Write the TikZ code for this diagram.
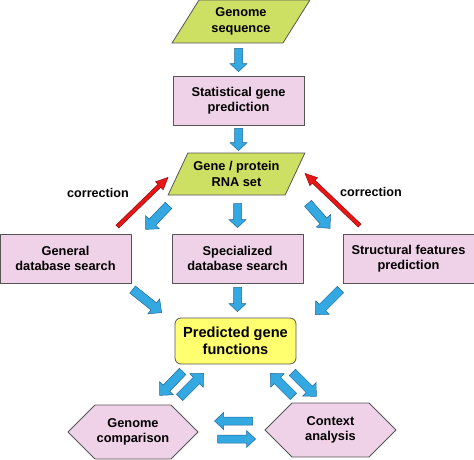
\documentclass[tikz,border=0pt]{standalone}
\usepackage{fontspec}
\setmainfont{Liberation Sans}
\usetikzlibrary{positioning}
\usetikzlibrary{calc}
\usetikzlibrary{shapes.geometric}
\usetikzlibrary{shapes.symbols}

\definecolor{boxpink}{RGB}{240,210,232}
\definecolor{seqgreen}{RGB}{206,224,100}
\definecolor{funcyellow}{RGB}{255,255,112}
\definecolor{arrowblue}{RGB}{52,168,224}
\definecolor{arrowedge}{RGB}{30,105,155}
\definecolor{corrred}{RGB}{232,22,22}
\definecolor{corredge}{RGB}{150,10,10}
\definecolor{boxedge}{RGB}{85,85,85}

% style, tail, tip, half shaft, half head, head length
\newcommand\fatarrow[6]{%
	\coordinate (fa-t) at #2;
	\coordinate (fa-e) at #3;
	\coordinate (fa-h) at ($(fa-e)!#6!(fa-t)$);
	\filldraw[#1] ($(fa-t)!#4!90:(fa-e)$) -- ($(fa-h)!#4!90:(fa-e)$) -- ($(fa-h)!#5!90:(fa-e)$) -- (fa-e)
		-- ($(fa-h)!#5!-90:(fa-e)$) -- ($(fa-h)!#4!-90:(fa-e)$) -- ($(fa-t)!#4!-90:(fa-e)$) -- cycle;}

\begin{document}
\begin{tikzpicture}[x=1pt,y=-1pt]
				\tikzset{box/.style = {shape=rectangle, draw=boxedge, fill=boxpink, line width=0.8pt, align=center, inner sep=0pt, minimum width=131pt, minimum height=49pt, font=\fontsize{12.8}{15.5}\selectfont\bfseries},
					dataset/.style = {shape=trapezium, trapezium left angle=55, trapezium right angle=125, trapezium stretches=true, draw=boxedge, fill=seqgreen, line width=0.8pt, align=center, inner sep=0pt, minimum width=138pt, minimum height=43pt, font=\fontsize{12.8}{15.5}\selectfont\bfseries},
					method/.style = {shape=signal, signal to=west and east, signal pointer angle=90, draw=boxedge, fill=boxpink, line width=0.8pt, align=center, inner sep=0pt, minimum width=130pt, minimum height=54pt, font=\fontsize{12.8}{15.5}\selectfont\bfseries},
					bluearrow/.style = {fill=arrowblue, draw=arrowedge, line width=0.5pt},
					redarrow/.style = {fill=corrred, draw=corredge, line width=0.5pt}}
				\useasboundingbox (0,0) rectangle (474,460);
				
				\node[dataset] (GENOME) at (241,21.5) {Genome\\sequence};
				\node[box] (STAT) at (238.5,100.5) {Statistical gene\\prediction};
				\node[dataset, minimum width=137pt, minimum height=42pt] (GENE) at (236.5,174) {Gene / protein\\RNA set};
				\node[box] (GENERAL) at (65.5,258.5) {General\\database search};
				\node[box] (SPEC) at (237.5,258.5) {Specialized\\database search};
				\node[box] (STRUCT) at (408.5,258.5) {Structural features\\prediction};
				\node[box, fill=funcyellow, rounded corners=6pt, minimum width=121pt, minimum height=46pt, font=\fontsize{14.6}{17}\selectfont\bfseries] (PRED) at (235.5,341) {Predicted gene\\functions};
				\node[method] (GCOMP) at (133,432) {Genome\\comparison};
				\node[method, minimum width=131pt] (CONTEXT) at (330.5,430) {Context\\analysis};
				\node[font=\fontsize{12.6}{15}\selectfont\bfseries] (CORRL) at (98,193) {correction};
				\node[font=\fontsize{12.6}{15}\selectfont\bfseries] (CORRR) at (371,192) {correction};
				
				\fatarrow{bluearrow}{($(GENOME.south -| STAT.north)+(0,5)$)}{($(STAT.north)+(0,-4)$)}{4pt}{8.5pt}{8pt}
				\fatarrow{bluearrow}{($(STAT.south)+(0,3)$)}{($(STAT.south |- GENE.north)+(0,-2)$)}{4pt}{8.5pt}{8pt}
				\fatarrow{bluearrow}{($(GENE.south)+(-68,10)$)}{($(GENE.south)+(-91,34)$)}{4.5pt}{9.5pt}{10pt}
				\fatarrow{bluearrow}{($(SPEC.north)+(0,-30)$)}{($(SPEC.north)+(0,-6)$)}{4pt}{8.5pt}{8pt}
				\fatarrow{bluearrow}{($(GENE.south)+(71.5,8)$)}{($(GENE.south)+(93.5,33)$)}{4.5pt}{9.5pt}{10pt}
				\fatarrow{redarrow}{($(GENERAL.north east)+(-14,-7)$)}{($(GENE.south)+(-68.5,-18)$)}{2pt}{5.5pt}{12pt}
				\fatarrow{redarrow}{($(STRUCT.north west)+(17,-8)$)}{($(GENE.south)+(68.5,-22)$)}{2pt}{5.5pt}{12pt}
				\fatarrow{bluearrow}{($(PRED.north west)+(-42,-28)$)}{($(PRED.north west)+(-13,-5)$)}{4.5pt}{9.5pt}{10pt}
				\fatarrow{bluearrow}{($(SPEC.south)+(0,4)$)}{($(SPEC.south |- PRED.north)+(0,-6)$)}{4pt}{8.5pt}{8pt}
				\fatarrow{bluearrow}{($(PRED.north east)+(44,-28)$)}{($(PRED.north east)+(19,-3)$)}{4.5pt}{9.5pt}{10pt}
				\fatarrow{bluearrow}{($(PRED.south west)+(8,7)$)}{($(PRED.south west)+(-15,31)$)}{4.5pt}{9.5pt}{10pt}
				\fatarrow{bluearrow}{($(PRED.south west)+(5,33)$)}{($(PRED.south west)+(29,9)$)}{4.5pt}{9.5pt}{10pt}
				\fatarrow{bluearrow}{($(PRED.south east)+(-3,32)$)}{($(PRED.south east)+(-26,9)$)}{4.5pt}{9.5pt}{10pt}
				\fatarrow{bluearrow}{($(PRED.south east)+(-4,8)$)}{($(PRED.south east)+(20,32)$)}{4.5pt}{9.5pt}{10pt}
				\fatarrow{bluearrow}{($(GCOMP.east)+(54,-11)$)}{($(GCOMP.east)+(16,-11)$)}{4pt}{8.5pt}{9pt}
				\fatarrow{bluearrow}{($(GCOMP.east)+(19,7)$)}{($(GCOMP.east)+(57,7)$)}{4pt}{8.5pt}{9pt}
				
				\end{tikzpicture}
\end{document}
